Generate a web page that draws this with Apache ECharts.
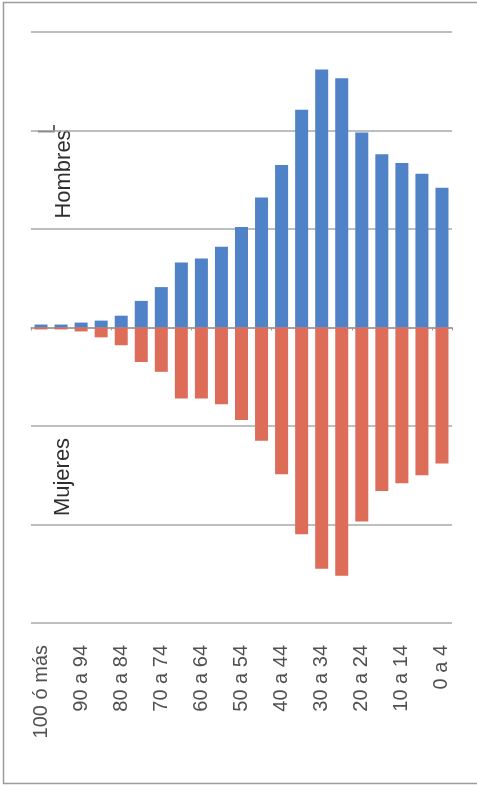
<!DOCTYPE html>
<html>
<head>
<meta charset="utf-8">
<script src="https://cdn.jsdelivr.net/npm/echarts@6/dist/echarts.min.js"></script>
<style>html,body{margin:0;padding:0;background:#fff;}#c{width:477px;height:790px;}</style>
</head>
<body>
<div id="c"></div>
<script>
const categories = ['100 ó más','95 a 99','90 a 94','85 a 89','80 a 84','75 a 79','70 a 74','65 a 69','60 a 64','55 a 59','50 a 54','45 a 49','40 a 44','35 a 39','30 a 34','25 a 29','20 a 24','15 a 19','10 a 14','5 a 9','0 a 4'];
const hombres = [0.03,0.03,0.05,0.07,0.12,0.27,0.41,0.66,0.70,0.82,1.02,1.32,1.65,2.21,2.62,2.53,1.98,1.76,1.67,1.56,1.42];
const mujeres = [0.02,0.02,0.04,0.10,0.18,0.35,0.45,0.72,0.72,0.78,0.94,1.15,1.49,2.10,2.45,2.52,1.97,1.66,1.58,1.50,1.38];
const yTicks = [-3,-2,-1,0,1,2,3];

const chart = echarts.init(document.getElementById('c'));
chart.setOption({
  animation:false,
  backgroundColor:'#fff',
  grid:{left:31,right:25,top:32,bottom:167,containLabel:false},
  xAxis:[{
    type:'category',data:categories,position:'bottom',
    axisLine:{show:false,onZero:false},axisTick:{show:false},
    axisLabel:{interval:1,rotate:90,margin:22,fontSize:20,color:'#505050',fontFamily:'Liberation Sans, Arial, sans-serif'}
  },{
    type:'category',data:categories,position:'bottom',
    axisLine:{show:true,onZero:true,lineStyle:{color:'#9a9a9a',width:1.5}},
    axisTick:{show:true,length:3,lineStyle:{color:'#9a9a9a'}},
    axisLabel:{show:false}
  }],
  yAxis:{
    type:'value',min:yTicks[0],max:yTicks[yTicks.length-1],interval:1,
    axisLine:{show:false},axisTick:{show:false},axisLabel:{show:false},
    splitLine:{lineStyle:{color:'#a8a8a8',width:1.5}}
  },
  series:[{
    name:'Hombres',type:'bar',stack:'p',barWidth:13,
    data:hombres,itemStyle:{color:'#4f82c6'}
  },{
    name:'Mujeres',type:'bar',stack:'p',barWidth:13,
    data:mujeres.map(v=>-v),itemStyle:{color:'#dd6d58'}
  }],
  graphic:[
    {type:'rect',shape:{x:3.5,y:2.5,width:490,height:781},style:{fill:'none',stroke:'#9c9c9c',lineWidth:1.5},silent:true},
    {type:'text',x:64,y:174,rotation:Math.PI/2,style:{text:'Hombres',font:'22px "Liberation Sans", Arial, sans-serif',fill:'#2e2e2e',textAlign:'center',textVerticalAlign:'middle'}},
    {type:'text',x:63,y:477,rotation:Math.PI/2,style:{text:'Mujeres',font:'22px "Liberation Sans", Arial, sans-serif',fill:'#2e2e2e',textAlign:'center',textVerticalAlign:'middle'}},
    {type:'polyline',shape:{points:[[38,131.5],[54,131.5],[54,125]]},style:{stroke:'#333',lineWidth:1.5,fill:'none'}}
  ]
});
</script>
</body>
</html>
